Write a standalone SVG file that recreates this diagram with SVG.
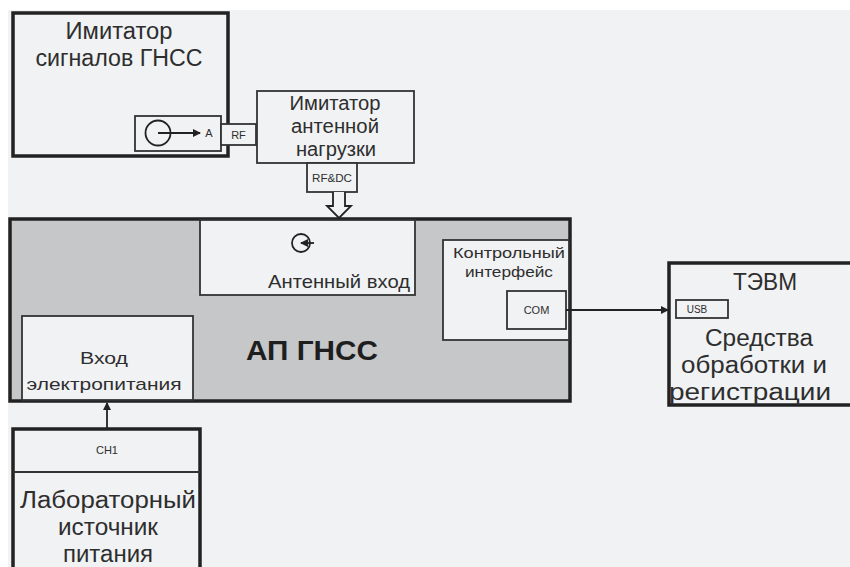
<svg xmlns="http://www.w3.org/2000/svg" width="850" height="567" viewBox="0 0 850 567">
<style>
text{font-family:"Liberation Sans",Arial,sans-serif;fill:#2e2e2e;text-anchor:middle}
.thick{fill:#f1f2f4;stroke:#222;stroke-width:3.5}
.thin{fill:#f1f2f4;stroke:#333;stroke-width:1.8}
.big{font-size:23px}
.mid{font-size:20px}
.xs{font-size:11px}
.ln{stroke:#222;stroke-width:1.8;fill:none}
</style>
<defs>
<marker id="ah" markerWidth="8" markerHeight="8" refX="7" refY="4" orient="auto" markerUnits="userSpaceOnUse">
<path d="M0,0 L8,4 L0,8 Z" fill="#222"/>
</marker>
</defs>
<rect x="0" y="0" width="850" height="567" fill="#ffffff"/>
<rect x="8" y="10" width="842" height="557" fill="#f1f2f4"/>

<g id="simulator">
<rect class="thick" x="13" y="13" width="215" height="143"/>
<text class="big" x="119" y="39" textLength="107" lengthAdjust="spacingAndGlyphs">Имитатор</text>
<text class="big" x="119" y="66" textLength="167" lengthAdjust="spacingAndGlyphs">сигналов ГНСС</text>
<rect class="thin" x="135" y="116" width="86" height="35"/>
<circle cx="158" cy="133" r="12.5" fill="none" stroke="#222" stroke-width="1.8"/>
<line class="ln" x1="158" y1="133" x2="200" y2="133" marker-end="url(#ah)"/>
<text class="xs" x="209" y="137">A</text>
</g>

<g id="rf-port">
<rect class="thin" x="221" y="124" width="35" height="21"/>
<text class="xs" x="238.5" y="138.5">RF</text>
</g>

<g id="antenna-load">
<rect class="thin" x="257" y="91" width="157" height="72"/>
<text class="mid" x="335" y="110" textLength="91" lengthAdjust="spacingAndGlyphs">Имитатор</text>
<text class="mid" x="335" y="133" textLength="88" lengthAdjust="spacingAndGlyphs">антенной</text>
<text class="mid" x="336" y="156" textLength="80" lengthAdjust="spacingAndGlyphs">нагрузки</text>
<rect class="thin" x="307" y="163" width="50" height="29"/>
<text class="xs" x="332" y="182" textLength="40" lengthAdjust="spacingAndGlyphs">RF&amp;DC</text>
</g>

<g id="receiver">
<rect x="10" y="219" width="560" height="182" fill="#c6c7c9" stroke="#222" stroke-width="3.5"/>
<text x="312" y="360" textLength="132" lengthAdjust="spacingAndGlyphs" style="font-size:28px;font-weight:bold;fill:#1e1e1e">АП ГНСС</text>
</g>

<g id="antenna-input">
<rect class="thin" x="200" y="220" width="215" height="75" stroke-width="2.2"/>
<circle cx="301" cy="243" r="9" fill="none" stroke="#222" stroke-width="1.8"/>
<line class="ln" x1="314" y1="243" x2="301" y2="243" marker-end="url(#ah)"/>
<text x="339" y="288" textLength="142" lengthAdjust="spacingAndGlyphs" style="font-size:19px">Антенный вход</text>
</g>

<g id="control-interface">
<rect class="thin" x="443" y="240" width="126" height="100"/>
<text x="509" y="258" textLength="112" lengthAdjust="spacingAndGlyphs" style="font-size:15px">Контрольный</text>
<text x="509" y="277" textLength="88" lengthAdjust="spacingAndGlyphs" style="font-size:15px">интерфейс</text>
<rect class="thin" x="507" y="291" width="59" height="38"/>
<text class="xs" x="536.5" y="314">COM</text>
</g>

<g id="power-input">
<rect class="thin" x="22" y="316" width="171" height="84" stroke-width="2.2"/>
<text x="104" y="364" textLength="48" lengthAdjust="spacingAndGlyphs" style="font-size:17px">Вход</text>
<text x="104" y="390" textLength="155" lengthAdjust="spacingAndGlyphs" style="font-size:17px">электропитания</text>
</g>

<g id="pc">
<rect class="thick" x="669" y="263" width="190" height="142"/>
<text x="765" y="290" textLength="64" lengthAdjust="spacingAndGlyphs" style="font-size:23px">ТЭВМ</text>
<rect class="thin" x="676" y="300" width="52" height="18"/>
<text x="697" y="313" style="font-size:10px">USB</text>
<text class="big" x="759" y="346" textLength="108" lengthAdjust="spacingAndGlyphs">Средства</text>
<text class="big" x="754" y="373" textLength="146" lengthAdjust="spacingAndGlyphs">обработки и</text>
<text class="big" x="750" y="400" textLength="162" lengthAdjust="spacingAndGlyphs">регистрации</text>
</g>

<g id="power-supply">
<rect class="thick" x="13" y="429" width="187" height="150"/>
<line x1="13" y1="472" x2="200" y2="472" stroke="#333" stroke-width="1.8"/>
<text class="xs" x="107" y="454">CH1</text>
<text class="big" x="108" y="508" textLength="176" lengthAdjust="spacingAndGlyphs">Лабораторный</text>
<text class="big" x="108" y="535" textLength="100" lengthAdjust="spacingAndGlyphs">источник</text>
<text class="big" x="108" y="562" textLength="90" lengthAdjust="spacingAndGlyphs">питания</text>
</g>

<g id="connectors">
<path d="M333,192 V206 H327 L339,218 L351,206 H345 V192" fill="#f1f2f4" stroke="#222" stroke-width="1.8" stroke-linejoin="miter"/>
<line class="ln" x1="566" y1="310" x2="668" y2="310" marker-end="url(#ah)"/>
<line class="ln" x1="107" y1="428" x2="107" y2="403" marker-end="url(#ah)"/>
</g>
</svg>
